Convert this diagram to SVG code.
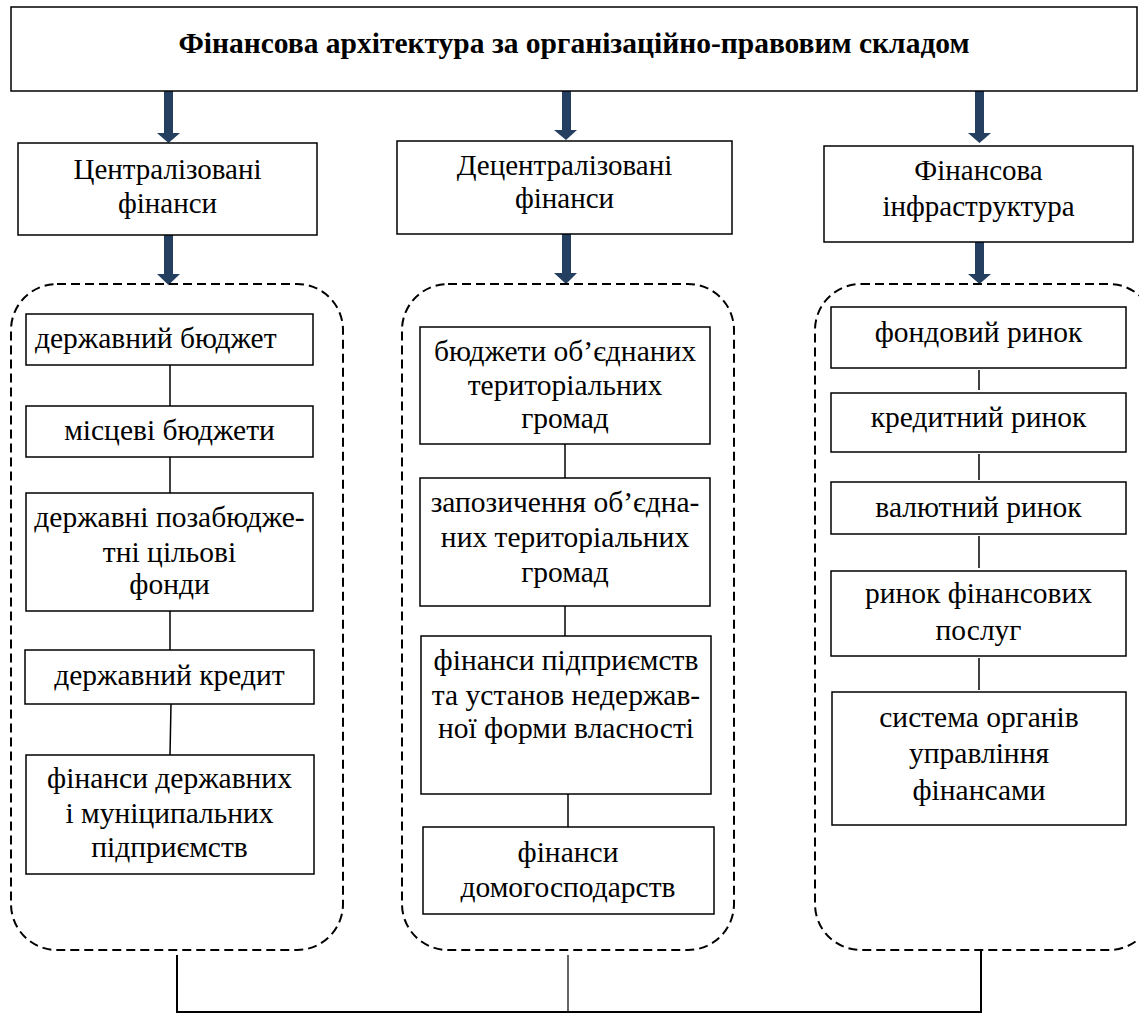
<svg xmlns="http://www.w3.org/2000/svg" width="1139" height="1014" viewBox="0 0 1139 1014">
<style>
.box{fill:#fff;stroke:#000;stroke-width:1.5}
.grp{fill:none;stroke:#000;stroke-width:2;stroke-dasharray:9 5}
.t{font-family:"Liberation Serif","Times New Roman",serif;font-size:29.5px;fill:#000;text-anchor:middle}
.h{font-size:29px}
.title{font-family:"Liberation Serif","Times New Roman",serif;font-size:29.5px;font-weight:bold;fill:#000;text-anchor:middle}
.ln{stroke:#000;stroke-width:1.5;fill:none}
.arr{fill:#253f60}
</style>
<rect width="1139" height="1014" fill="#fff"/>
<g id="connectors">
<polygon class="arr" points="164,91 173,91 173,133 180,133 168.5,143 157,133 164,133"/>
<polygon class="arr" points="164,235 173,235 173,274 180,274 168.5,285 157,274 164,274"/>
<polygon class="arr" points="562,91 571,91 571,130 577,130 566,140 554,130 562,130"/>
<polygon class="arr" points="562,234 571,234 571,273 577,273 566,284 554,273 562,273"/>
<polygon class="arr" points="975,91 984,91 984,133 991,133 979.5,143 968,133 975,133"/>
<polygon class="arr" points="975,242 984,242 984,274 991,274 979.5,284 968,274 975,274"/>
<line class="ln" x1="170" y1="365" x2="170" y2="406"/>
<line class="ln" x1="170" y1="457" x2="170" y2="493"/>
<line class="ln" x1="170" y1="611" x2="170" y2="650"/>
<line class="ln" x1="171" y1="704" x2="170" y2="755"/>
<line class="ln" x1="565" y1="444" x2="565" y2="478"/>
<line class="ln" x1="565" y1="606" x2="565" y2="636"/>
<line class="ln" x1="568" y1="794" x2="568" y2="827"/>
<line class="ln" x1="979" y1="370" x2="979" y2="390"/>
<line class="ln" x1="979" y1="454" x2="979" y2="480"/>
<line class="ln" x1="979" y1="536" x2="979" y2="568"/>
<line class="ln" x1="979" y1="658" x2="979" y2="690"/>
<line x1="177" y1="955" x2="177" y2="1012" stroke="#000" stroke-width="2"/>
<line x1="568" y1="955" x2="568" y2="1012" stroke="#000" stroke-width="1.2"/>
<line x1="981" y1="950" x2="981" y2="1012" stroke="#000" stroke-width="2"/>
<line x1="176" y1="1012" x2="982" y2="1012" stroke="#000" stroke-width="2.2"/>
</g>
<g id="title">
<rect class="box" x="11" y="7" width="1126" height="84"/>
<text class="title" x="574" y="53">Фінансова архітектура за організаційно-правовим складом</text>
</g>
<g id="centralized">
<rect class="box" x="18" y="143" width="299" height="92"/>
<text class="t h" x="167.5" y="179">Централізовані</text>
<text class="t h" x="167.5" y="213">фінанси</text>
</g>
<g id="decentralized">
<rect class="box" x="397" y="141" width="335" height="93"/>
<text class="t h" x="564.5" y="175">Децентралізовані</text>
<text class="t h" x="564.5" y="208">фінанси</text>
</g>
<g id="infrastructure">
<rect class="box" x="824" y="146" width="309" height="96"/>
<text class="t h" x="978.5" y="180">Фінансова</text>
<text class="t h" x="978.5" y="216">інфраструктура</text>
</g>
<g id="group-left"><rect class="grp" x="11" y="284" width="332" height="666" rx="46" ry="46"/></g>
<g id="group-mid"><rect class="grp" x="402" y="284" width="332" height="666" rx="46" ry="46"/></g>
<g id="group-right"><rect class="grp" x="815" y="284" width="340" height="666" rx="46" ry="46"/></g>
<g id="state-budget">
<rect class="box" x="26" y="314" width="287" height="51"/>
<text class="t" x="35" y="348" style="text-anchor:start">державний бюджет</text>
</g>
<g id="local-budgets">
<rect class="box" x="26" y="406" width="287" height="51"/>
<text class="t" x="169.5" y="440">місцеві бюджети</text>
</g>
<g id="funds">
<rect class="box" x="26" y="493" width="287" height="118"/>
<text class="t" x="169.5" y="527">державні позабюдже-</text>
<text class="t" x="169.5" y="562">тні цільові</text>
<text class="t" x="169.5" y="594">фонди</text>
</g>
<g id="state-credit">
<rect class="box" x="25" y="650" width="289" height="54"/>
<text class="t" x="169.5" y="685">державний кредит</text>
</g>
<g id="enterprises">
<rect class="box" x="26" y="755" width="288" height="119"/>
<text class="t" x="169.5" y="788">фінанси державних</text>
<text class="t" x="169.5" y="823">і муніципальних</text>
<text class="t" x="169.5" y="857">підприємств</text>
</g>
<g id="otg-budgets">
<rect class="box" x="420" y="327" width="290" height="117"/>
<text class="t" x="565" y="361">бюджети об’єднаних</text>
<text class="t" x="565" y="395">територіальних</text>
<text class="t" x="565" y="428">громад</text>
</g>
<g id="otg-borrowing">
<rect class="box" x="420" y="478" width="290" height="128"/>
<text class="t" x="565" y="512">запозичення об’єдна-</text>
<text class="t" x="565" y="547">них територіальних</text>
<text class="t" x="565" y="582">громад</text>
</g>
<g id="private-enterprises">
<rect class="box" x="421" y="636" width="290" height="158"/>
<text class="t" x="566" y="670">фінанси підприємств</text>
<text class="t" x="566" y="705">та установ недержав-</text>
<text class="t" x="566" y="738">ної форми власності</text>
</g>
<g id="households">
<rect class="box" x="423" y="827" width="291" height="87"/>
<text class="t" x="568" y="862">фінанси</text>
<text class="t" x="568" y="897">домогосподарств</text>
</g>
<g id="stock-market">
<rect class="box" x="831" y="307" width="295" height="61"/>
<text class="t" x="978.5" y="342">фондовий ринок</text>
</g>
<g id="credit-market">
<rect class="box" x="831" y="393" width="295" height="59"/>
<text class="t" x="978.5" y="427">кредитний ринок</text>
</g>
<g id="currency-market">
<rect class="box" x="831" y="482" width="295" height="52"/>
<text class="t" x="978.5" y="517">валютний ринок</text>
</g>
<g id="services-market">
<rect class="box" x="831" y="571" width="295" height="85"/>
<text class="t" x="978.5" y="603">ринок фінансових</text>
<text class="t" x="978.5" y="640">послуг</text>
</g>
<g id="management">
<rect class="box" x="832" y="692" width="294" height="133"/>
<text class="t" x="979" y="727">система органів</text>
<text class="t" x="979" y="763">управління</text>
<text class="t" x="979" y="800">фінансами</text>
</g>
</svg>
